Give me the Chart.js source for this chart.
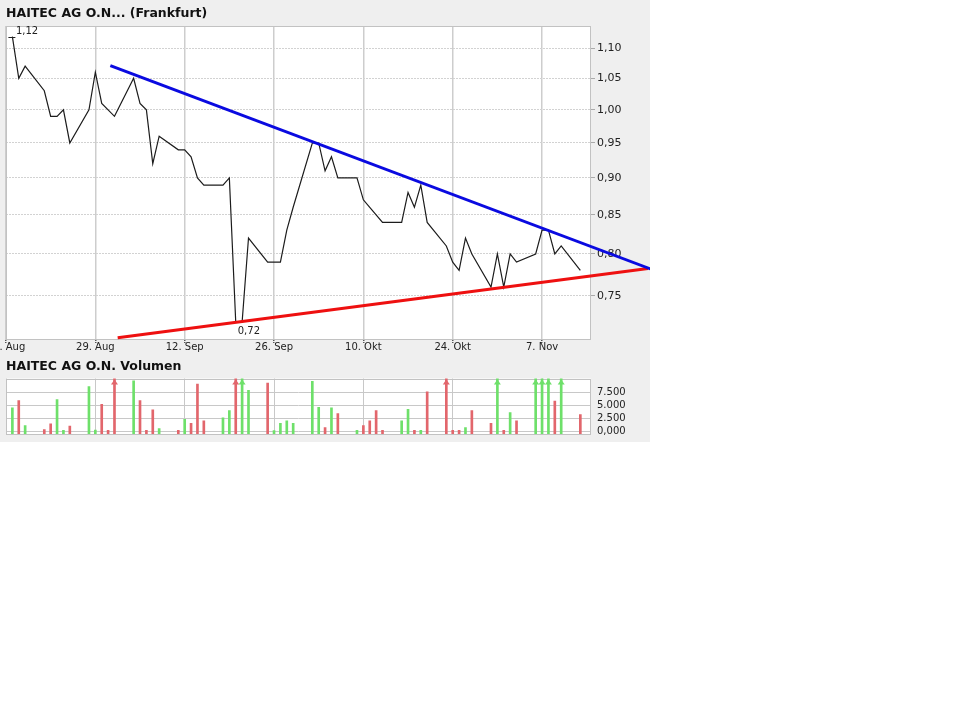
<!DOCTYPE html>
<html>
<head>
<meta charset="utf-8">
<title>HAITEC AG O.N. (Frankfurt)</title>
<script src="https://cdn.jsdelivr.net/npm/chart.js@4.4.1/dist/chart.umd.min.js"></script>
<style>
  html, body { margin: 0; padding: 0; background: #fff; }
  #panel { position: absolute; left: 0; top: 0; width: 650px; height: 442px; background: #efefef; }
  #priceChart { position: absolute; left: 0; top: 0; }
  #volChart { position: absolute; left: 0; top: 356px; }
</style>
</head>
<body>
<div id="panel">
  <canvas id="priceChart" width="650" height="356"></canvas>
  <canvas id="volChart" width="650" height="86"></canvas>
</div>
<script>
// trading days, counted in calendar days after 15. Aug
const tradingDays = [1, 2, 3, 6, 7, 8, 9, 10, 13, 14, 15, 16, 17, 20, 21, 22, 23, 24,
  27, 28, 29, 30, 31, 34, 35, 36, 37, 38, 41, 42, 43, 44, 45, 48, 49, 50, 51, 52,
  55, 56, 57, 58, 59, 62, 63, 64, 65, 66, 69, 70, 71, 72, 73, 76, 77, 78, 79, 80,
  83, 84, 85, 86, 87, 90];
const closePrices = [1.12, 1.05, 1.07, 1.03, 0.99, 0.99, 1.00, 0.95, 1.00, 1.06, 1.01, 1.00, 0.99, 1.05, 1.01, 1.00, 0.92, 0.96,
  0.94, 0.94, 0.93, 0.90, 0.89, 0.89, 0.90, 0.72, 0.72, 0.82, 0.79, 0.79, 0.79, 0.83, 0.86, 0.95, 0.95, 0.91, 0.93, 0.90,
  0.90, 0.87, 0.86, 0.85, 0.84, 0.84, 0.88, 0.86, 0.89, 0.84, 0.81, 0.79, 0.78, 0.82, 0.80, 0.76, 0.80, 0.76, 0.80, 0.79,
  0.80, 0.83, 0.83, 0.80, 0.81, 0.78];
// bars above 10.000 are cut off in the picture (arrow), their height is unknown
const volumes = [4500, 5900, 1100, 300, 1400, 6100, 150, 1000, 8600, 200, 5200, 150, 12000, 9700, 5900, 150, 4100, 500,
  150, 2300, 1500, 9100, 2000, 2600, 4000, 12000, 12000, 7900, 9300, 100, 1500, 2000, 1500, 9600, 4600, 700, 4500, 3400,
  150, 1100, 2000, 4000, 150, 2000, 4200, 150, 150, 7600, 12000, 150, 150, 700, 4000, 1500, 12000, 150, 3600, 2000,
  12000, 12000, 12000, 5800, 12000, 3200];

const dateTicks = [0, 14, 28, 42, 56, 70, 84];
const dateLabels = ['15. Aug', '29. Aug', '12. Sep', '26. Sep', '10. Okt', '24. Okt', '7. Nov'];
const priceTicks = [0.75, 0.80, 0.85, 0.90, 0.95, 1.00, 1.05, 1.10];
const volumeTicks = [0, 2500, 5000, 7500];
const volumeLabels = ['0,000', '2.500', '5.000', '7.500'];

// hand drawn trend lines
const resistanceDays = [16.35, 101.2];
const resistancePrices = [1.0708, 0.7811];
const supportDays = [17.5, 100.6];
const supportPrices = [0.7028, 0.7822];

const FONT = 'DejaVu Sans';
const UP = '#6ee06a';
const DOWN = '#e2666c';
const DAY_MIN = 0, DAY_MAX = 91.67;

const barColors = closePrices.map((p, i) => (i === 0 || p >= closePrices[i - 1]) ? UP : DOWN);
const fmt = v => v.toFixed(2).replace('.', ',');

const plotFrame = {
  id: 'plotFrame',
  beforeDraw(chart) {
    const { ctx, chartArea: a } = chart;
    ctx.save();
    ctx.fillStyle = '#ffffff';
    ctx.fillRect(a.left, a.top, a.right - a.left, a.bottom - a.top);
    ctx.restore();
  },
  beforeDatasetsDraw(chart) {
    const { ctx, chartArea: a } = chart;
    ctx.save();
    ctx.strokeStyle = '#c2c2c2';
    ctx.lineWidth = 1;
    ctx.strokeRect(Math.round(a.left) + 0.5, Math.round(a.top) + 0.5,
      Math.round(a.right - a.left) - 1, Math.round(a.bottom - a.top) - 1);
    ctx.restore();
  }
};

const extremes = {
  id: 'extremes',
  afterDatasetsDraw(chart) {
    const { ctx } = chart;
    const xs = chart.scales.x, ys = chart.scales.y;
    const hi = Math.max(...closePrices), lo = Math.min(...closePrices);
    const hx = xs.getPixelForValue(tradingDays[closePrices.indexOf(hi)]);
    const hy = ys.getPixelForValue(hi);
    const lx = xs.getPixelForValue(tradingDays[closePrices.indexOf(lo)]);
    const ly = ys.getPixelForValue(lo);
    ctx.save();
    ctx.strokeStyle = '#222';
    ctx.lineWidth = 1;
    ctx.beginPath();
    ctx.moveTo(hx - 4, Math.round(hy) + 0.5);
    ctx.lineTo(hx + 3, Math.round(hy) + 0.5);
    ctx.stroke();
    ctx.fillStyle = '#222';
    ctx.font = '10px "' + FONT + '"';
    ctx.textBaseline = 'middle';
    ctx.fillText(fmt(hi), hx + 3.5, hy - 5);
    ctx.fillText(fmt(lo), lx + 2, ly + 9);
    ctx.restore();
  }
};

const clipArrows = {
  id: 'clipArrows',
  afterDatasetsDraw(chart) {
    const { ctx, chartArea: a } = chart;
    const xs = chart.scales.x, ys = chart.scales.y;
    ctx.save();
    volumes.forEach((v, i) => {
      if (v <= ys.max) return;
      const x = xs.getPixelForValue(tradingDays[i]);
      ctx.fillStyle = barColors[i];
      ctx.beginPath();
      ctx.moveTo(x, a.top + 1);
      ctx.lineTo(x - 3.5, a.top + 6);
      ctx.lineTo(x + 3.5, a.top + 6);
      ctx.closePath();
      ctx.fill();
    });
    ctx.restore();
  }
};

new Chart(document.getElementById('priceChart'), {
  type: 'line',
  data: {
    datasets: [
      {
        data: resistanceDays.map((d, i) => ({ x: d, y: resistancePrices[i] })),
        borderColor: '#0a0ae0', borderWidth: 3, pointRadius: 0, clip: false
      },
      {
        data: supportDays.map((d, i) => ({ x: d, y: supportPrices[i] })),
        borderColor: '#ee1010', borderWidth: 3, pointRadius: 0, clip: false
      },
      {
        data: tradingDays.map((d, i) => ({ x: d, y: closePrices[i] })),
        borderColor: '#1c1c1c', borderWidth: 1.2, pointRadius: 0, tension: 0
      }
    ]
  },
  options: {
    responsive: false,
    animation: false,
    events: [],
    layout: { padding: { left: 6, right: 0, top: 0, bottom: 0 } },
    plugins: {
      legend: { display: false },
      tooltip: { enabled: false },
      title: {
        display: true,
        text: 'HAITEC AG O.N... (Frankfurt)',
        align: 'start',
        color: '#111',
        font: { family: FONT, size: 12.5, weight: 'bold' },
        padding: { top: 6.5, bottom: 4.5 }
      }
    },
    scales: {
      x: {
        type: 'linear',
        min: DAY_MIN,
        max: DAY_MAX,
        afterBuildTicks: s => { s.ticks = dateTicks.map(v => ({ value: v })); },
        afterFit: s => { s.height = 16.5; s.paddingLeft = 0; s.paddingRight = 0; },
        ticks: {
          autoSkip: false, maxRotation: 0, padding: -2, color: '#222',
          font: { family: FONT, size: 10 },
          callback: v => dateLabels[dateTicks.indexOf(v)]
        },
        grid: { color: '#cdcdcd', lineWidth: 1.5, tickLength: 4, tickColor: '#555', tickBorderDash: [1, 1] },
        border: { display: false }
      },
      y: {
        type: 'logarithmic',
        position: 'right',
        min: 0.7008,
        max: 1.1386,
        afterBuildTicks: s => { s.ticks = priceTicks.map(v => ({ value: v })); },
        afterFit: s => { s.width = 59; },
        ticks: {
          padding: 2, color: '#222',
          font: { family: FONT, size: 11 },
          callback: v => fmt(v)
        },
        grid: { color: '#d2d2d2', lineWidth: 1, tickLength: 4, tickColor: '#aaa' },
        border: { display: false, dash: [2, 1] }
      }
    }
  },
  plugins: [plotFrame, extremes]
});

new Chart(document.getElementById('volChart'), {
  type: 'bar',
  data: {
    datasets: [{
      data: tradingDays.map((d, i) => ({ x: d, y: volumes[i] })),
      backgroundColor: barColors,
      barThickness: 2,
      base: -545,
      clip: 0
    }]
  },
  options: {
    responsive: false,
    animation: false,
    events: [],
    layout: { padding: { left: 6, right: 0, top: 0, bottom: 0 } },
    plugins: {
      legend: { display: false },
      tooltip: { enabled: false },
      title: {
        display: true,
        text: 'HAITEC AG O.N. Volumen',
        align: 'start',
        color: '#111',
        font: { family: FONT, size: 12.5, weight: 'bold' },
        padding: { top: 3.5, bottom: 4 }
      }
    },
    scales: {
      x: {
        type: 'linear',
        offset: false,
        min: DAY_MIN,
        max: DAY_MAX,
        afterBuildTicks: s => { s.ticks = dateTicks.map(v => ({ value: v })); },
        afterFit: s => { s.height = 6.5; s.paddingLeft = 0; s.paddingRight = 0; },
        ticks: { display: false },
        grid: { offset: false, color: '#c8c8c8', lineWidth: 1, drawTicks: false },
        border: { display: false }
      },
      y: {
        position: 'right',
        min: -545,
        max: 10170,
        afterBuildTicks: s => { s.ticks = volumeTicks.map(v => ({ value: v })); },
        afterFit: s => { s.width = 59; },
        ticks: {
          padding: 2, color: '#222',
          font: { family: FONT, size: 10 },
          callback: v => volumeLabels[volumeTicks.indexOf(v)]
        },
        grid: { color: '#c8c8c8', lineWidth: 1, tickLength: 4, tickColor: 'rgba(0,0,0,0)' },
        border: { display: false }
      }
    }
  },
  plugins: [plotFrame, clipArrows]
});
</script>
</body>
</html>
